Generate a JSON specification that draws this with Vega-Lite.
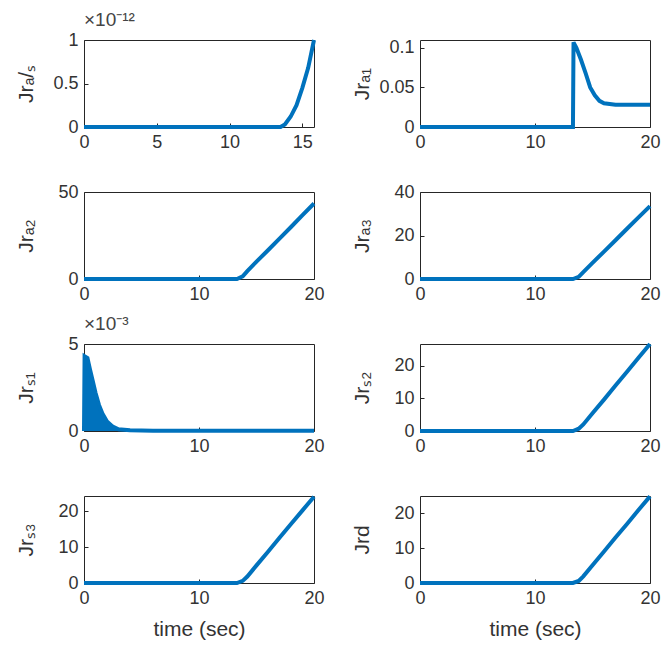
{
  "$schema": "https://vega.github.io/schema/vega-lite/v6.json",
  "background": "white",
  "padding": {"left": 14, "top": 10, "right": 5, "bottom": 5},
  "columns": 2,
  "spacing": {"row": 65, "column": 106},
  "bounds": "flush",
  "data": {"values": [
    {"p": "as", "t": 0, "v": 0}, {"p": "as", "t": 13.5, "v": 0}, {"p": "as", "t": 13.8, "v": 0.03}, {"p": "as", "t": 14.2, "v": 0.12}, {"p": "as", "t": 14.6, "v": 0.25}, {"p": "as", "t": 15.0, "v": 0.45}, {"p": "as", "t": 15.4, "v": 0.68}, {"p": "as", "t": 15.8, "v": 1.0},
    {"p": "a1", "t": 0, "v": 0}, {"p": "a1", "t": 13.3, "v": 0}, {"p": "a1", "t": 13.35, "v": 0.107}, {"p": "a1", "t": 13.6, "v": 0.1}, {"p": "a1", "t": 14.0, "v": 0.085}, {"p": "a1", "t": 14.4, "v": 0.068}, {"p": "a1", "t": 14.8, "v": 0.05}, {"p": "a1", "t": 15.2, "v": 0.04}, {"p": "a1", "t": 15.6, "v": 0.033}, {"p": "a1", "t": 16.0, "v": 0.03}, {"p": "a1", "t": 17.0, "v": 0.028}, {"p": "a1", "t": 20, "v": 0.028},
    {"p": "a2", "t": 0, "v": 0}, {"p": "a2", "t": 13.3, "v": 0}, {"p": "a2", "t": 13.8, "v": 1.5}, {"p": "a2", "t": 14.2, "v": 4.5}, {"p": "a2", "t": 15, "v": 10}, {"p": "a2", "t": 16, "v": 16.5}, {"p": "a2", "t": 17, "v": 23.2}, {"p": "a2", "t": 18, "v": 29.9}, {"p": "a2", "t": 19, "v": 36.7}, {"p": "a2", "t": 20, "v": 43.4},
    {"p": "a3", "t": 0, "v": 0}, {"p": "a3", "t": 13.3, "v": 0}, {"p": "a3", "t": 13.8, "v": 1.0}, {"p": "a3", "t": 14.2, "v": 3.2}, {"p": "a3", "t": 15, "v": 7.4}, {"p": "a3", "t": 16, "v": 12.6}, {"p": "a3", "t": 17, "v": 17.8}, {"p": "a3", "t": 18, "v": 23.1}, {"p": "a3", "t": 19, "v": 28.3}, {"p": "a3", "t": 20, "v": 33.5},
    {"p": "s1", "t": 0, "v": 0}, {"p": "s1", "t": 0.05, "v": 4.3}, {"p": "s1", "t": 0.3, "v": 4.2}, {"p": "s1", "t": 0.5, "v": 3.6}, {"p": "s1", "t": 0.75, "v": 2.9}, {"p": "s1", "t": 1.0, "v": 2.2}, {"p": "s1", "t": 1.3, "v": 1.5}, {"p": "s1", "t": 1.6, "v": 1.0}, {"p": "s1", "t": 2.0, "v": 0.55}, {"p": "s1", "t": 2.5, "v": 0.25}, {"p": "s1", "t": 3.0, "v": 0.1}, {"p": "s1", "t": 4.0, "v": 0.04}, {"p": "s1", "t": 6.0, "v": 0.02}, {"p": "s1", "t": 20, "v": 0.02},
    {"p": "s2", "t": 0, "v": 0}, {"p": "s2", "t": 13.3, "v": 0}, {"p": "s2", "t": 13.8, "v": 0.7}, {"p": "s2", "t": 14.2, "v": 2.0}, {"p": "s2", "t": 15, "v": 5.4}, {"p": "s2", "t": 16, "v": 9.6}, {"p": "s2", "t": 17, "v": 13.9}, {"p": "s2", "t": 18, "v": 18.1}, {"p": "s2", "t": 19, "v": 22.4}, {"p": "s2", "t": 20, "v": 26.6},
    {"p": "s3", "t": 0, "v": 0}, {"p": "s3", "t": 13.3, "v": 0}, {"p": "s3", "t": 13.8, "v": 0.6}, {"p": "s3", "t": 14.2, "v": 1.8}, {"p": "s3", "t": 15, "v": 4.9}, {"p": "s3", "t": 16, "v": 8.7}, {"p": "s3", "t": 17, "v": 12.6}, {"p": "s3", "t": 18, "v": 16.4}, {"p": "s3", "t": 19, "v": 20.2}, {"p": "s3", "t": 20, "v": 24.0},
    {"p": "d", "t": 0, "v": 0}, {"p": "d", "t": 13.3, "v": 0}, {"p": "d", "t": 13.8, "v": 0.6}, {"p": "d", "t": 14.2, "v": 1.9}, {"p": "d", "t": 15, "v": 5.1}, {"p": "d", "t": 16, "v": 9.0}, {"p": "d", "t": 17, "v": 13.0}, {"p": "d", "t": 18, "v": 16.9}, {"p": "d", "t": 19, "v": 20.9}, {"p": "d", "t": 20, "v": 24.8}
  ]},
  "concat": [
    {
      "width": 230, "height": 87,
      "title": {"text": "×10⁻¹²"},
      "transform": [{"filter": "datum.p === 'as'"}],
      "mark": {"type": "line", "strokeWidth": 4, "color": "#0072BD"},
      "encoding": {
        "x": {"field": "t", "type": "quantitative", "scale": {"domain": [0, 15.8], "nice": false}, "axis": {"values": [0, 5, 10, 15], "title": null}},
        "y": {"field": "v", "type": "quantitative", "scale": {"domain": [0, 1], "nice": false}, "axis": {"values": [0, 0.5, 1], "title": "Jrₐ/ₛ"}}
      }
    },
    {
      "width": 230, "height": 87,
      "transform": [{"filter": "datum.p === 'a1'"}],
      "mark": {"type": "line", "strokeWidth": 4, "color": "#0072BD"},
      "encoding": {
        "x": {"field": "t", "type": "quantitative", "scale": {"domain": [0, 20], "nice": false}, "axis": {"values": [0, 10, 20], "title": null}},
        "y": {"field": "v", "type": "quantitative", "scale": {"domain": [0, 0.11], "nice": false}, "axis": {"values": [0, 0.05, 0.1], "title": "Jrₐ₁"}}
      }
    },
    {
      "width": 230, "height": 87,
      "transform": [{"filter": "datum.p === 'a2'"}],
      "mark": {"type": "line", "strokeWidth": 4, "color": "#0072BD"},
      "encoding": {
        "x": {"field": "t", "type": "quantitative", "scale": {"domain": [0, 20], "nice": false}, "axis": {"values": [0, 10, 20], "title": null}},
        "y": {"field": "v", "type": "quantitative", "scale": {"domain": [0, 50], "nice": false}, "axis": {"values": [0, 50], "title": "Jrₐ₂"}}
      }
    },
    {
      "width": 230, "height": 87,
      "transform": [{"filter": "datum.p === 'a3'"}],
      "mark": {"type": "line", "strokeWidth": 4, "color": "#0072BD"},
      "encoding": {
        "x": {"field": "t", "type": "quantitative", "scale": {"domain": [0, 20], "nice": false}, "axis": {"values": [0, 10, 20], "title": null}},
        "y": {"field": "v", "type": "quantitative", "scale": {"domain": [0, 40], "nice": false}, "axis": {"values": [0, 20, 40], "title": "Jrₐ₃"}}
      }
    },
    {
      "width": 230, "height": 87,
      "title": {"text": "×10⁻³"},
      "transform": [{"filter": "datum.p === 's1'"}],
      "layer": [
        {"mark": {"type": "area", "color": "#0072BD"}},
        {"mark": {"type": "line", "strokeWidth": 4, "color": "#0072BD"}}
      ],
      "encoding": {
        "x": {"field": "t", "type": "quantitative", "scale": {"domain": [0, 20], "nice": false}, "axis": {"values": [0, 10, 20], "title": null}},
        "y": {"field": "v", "type": "quantitative", "scale": {"domain": [0, 5], "nice": false}, "axis": {"values": [0, 5], "title": "Jrₛ₁"}}
      }
    },
    {
      "width": 230, "height": 87,
      "transform": [{"filter": "datum.p === 's2'"}],
      "mark": {"type": "line", "strokeWidth": 4, "color": "#0072BD"},
      "encoding": {
        "x": {"field": "t", "type": "quantitative", "scale": {"domain": [0, 20], "nice": false}, "axis": {"values": [0, 10, 20], "title": null}},
        "y": {"field": "v", "type": "quantitative", "scale": {"domain": [0, 26.6], "nice": false}, "axis": {"values": [0, 10, 20], "title": "Jrₛ₂"}}
      }
    },
    {
      "width": 230, "height": 87,
      "transform": [{"filter": "datum.p === 's3'"}],
      "mark": {"type": "line", "strokeWidth": 4, "color": "#0072BD"},
      "encoding": {
        "x": {"field": "t", "type": "quantitative", "scale": {"domain": [0, 20], "nice": false}, "axis": {"values": [0, 10, 20], "title": "time (sec)"}},
        "y": {"field": "v", "type": "quantitative", "scale": {"domain": [0, 24.2], "nice": false}, "axis": {"values": [0, 10, 20], "title": "Jrₛ₃"}}
      }
    },
    {
      "width": 230, "height": 87,
      "transform": [{"filter": "datum.p === 'd'"}],
      "mark": {"type": "line", "strokeWidth": 4, "color": "#0072BD"},
      "encoding": {
        "x": {"field": "t", "type": "quantitative", "scale": {"domain": [0, 20], "nice": false}, "axis": {"values": [0, 10, 20], "title": "time (sec)"}},
        "y": {"field": "v", "type": "quantitative", "scale": {"domain": [0, 24.9], "nice": false}, "axis": {"values": [0, 10, 20], "title": "Jrd"}}
      }
    }
  ],
  "config": {
    "font": "Liberation Sans",
    "view": {"stroke": "#262626", "strokeWidth": 1},
    "axis": {
      "grid": false, "domain": false, "format": "~r", "labelFlush": false, "labelOverlap": false,
      "labelFont": "Liberation Sans", "labelFontSize": 18, "labelColor": "#333333",
      "titleFont": "Liberation Sans", "titleFontSize": 21, "titleFontWeight": "normal", "titleColor": "#333333",
      "tickColor": "#262626", "tickSize": -4, "labelPadding": 10
    },
    "axisY": {"titleX": -52, "titleBaseline": "alphabetic"},
    "axisX": {"titlePadding": 11},
    "title": {"anchor": "start", "frame": "group", "font": "Liberation Sans", "fontSize": 19, "fontWeight": "normal", "color": "#444444", "offset": 1}
  }
}
